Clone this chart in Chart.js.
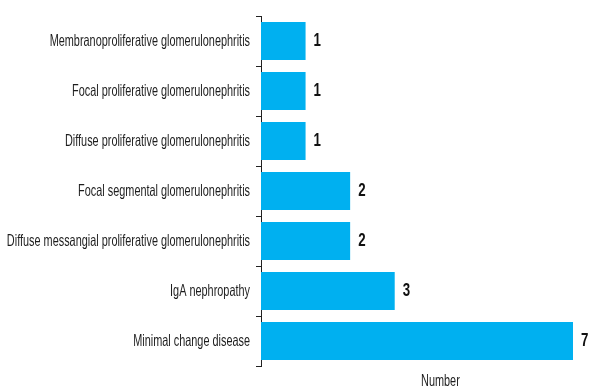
<!DOCTYPE html>
<html>
<head>
<meta charset="utf-8">
<script src="https://cdn.jsdelivr.net/npm/chart.js@4.4.1/dist/chart.umd.min.js"></script>
<style>
  html, body { margin: 0; padding: 0; background: #ffffff; }
  #wrap { width: 590px; height: 389px; }
</style>
</head>
<body>
<div id="wrap"><canvas id="c" width="590" height="389"></canvas></div>
<script>
// Biopsy diagnoses and case counts
const categories = [
  'Membranoproliferative glomerulonephritis',
  'Focal proliferative glomerulonephritis',
  'Diffuse proliferative glomerulonephritis',
  'Focal segmental glomerulonephritis',
  'Diffuse messangial proliferative glomerulonephritis',
  'IgA nephropathy',
  'Minimal change disease'
];
const counts = [1, 1, 1, 2, 2, 3, 7];
const axisTitle = 'Number';

const FONT = '"Liberation Sans", Arial, sans-serif';
const SQUEEZE = 0.66;   // horizontal condensing for a narrow type face

// Draws text condensed horizontally, anchored at (x, y)
function narrowText(ctx, text, x, y, align, squeeze) {
  ctx.save();
  ctx.translate(x, y);
  ctx.scale(squeeze, 1);
  ctx.textAlign = align;
  ctx.textBaseline = 'middle';
  ctx.fillText(text, 0, 0);
  ctx.restore();
}

// Category names, bar values and the axis title in condensed type
const narrowLabels = {
  id: 'narrowLabels',
  afterDraw(chart) {
    const ctx = chart.ctx;
    const yScale = chart.scales.y;
    const area = chart.chartArea;

    ctx.save();
    ctx.fillStyle = '#1e1e1e';
    ctx.font = '16.5px ' + FONT;
    chart.data.labels.forEach((label, i) => {
      narrowText(ctx, label, yScale.right - 11, yScale.getPixelForTick(i), 'right', SQUEEZE);
    });

    ctx.fillStyle = '#111111';
    ctx.font = 'bold 19px ' + FONT;
    chart.getDatasetMeta(0).data.forEach((bar, i) => {
      narrowText(ctx, String(counts[i]), bar.x + 8, bar.y, 'left', 0.7);
    });

    ctx.fillStyle = '#1e1e1e';
    ctx.font = '16.5px ' + FONT;
    narrowText(ctx, axisTitle, area.left + area.width * 0.575, area.bottom + 15, 'center', SQUEEZE);
    ctx.restore();
  }
};

new Chart(document.getElementById('c'), {
  type: 'bar',
  data: {
    labels: categories,
    datasets: [{
      data: counts,
      backgroundColor: '#00B0F0',
      borderWidth: 0,
      barPercentage: 0.76,
      categoryPercentage: 1.0
    }]
  },
  options: {
    indexAxis: 'y',
    responsive: false,
    animation: false,
    layout: { padding: { top: 16, right: 17, bottom: 23, left: 0 } },
    plugins: {
      legend: { display: false },
      tooltip: { enabled: false }
    },
    scales: {
      x: {
        min: 0,
        max: 7,
        display: false
      },
      y: {
        grid: {
          display: true,
          offset: true,
          drawOnChartArea: false,
          drawTicks: true,
          tickLength: 5,
          color: '#222222',
          lineWidth: 1
        },
        border: { display: true, color: '#222222', width: 1 },
        ticks: { display: false },
        afterFit(scale) { scale.width = 261; }
      }
    }
  },
  plugins: [narrowLabels]
});
</script>
</body>
</html>
